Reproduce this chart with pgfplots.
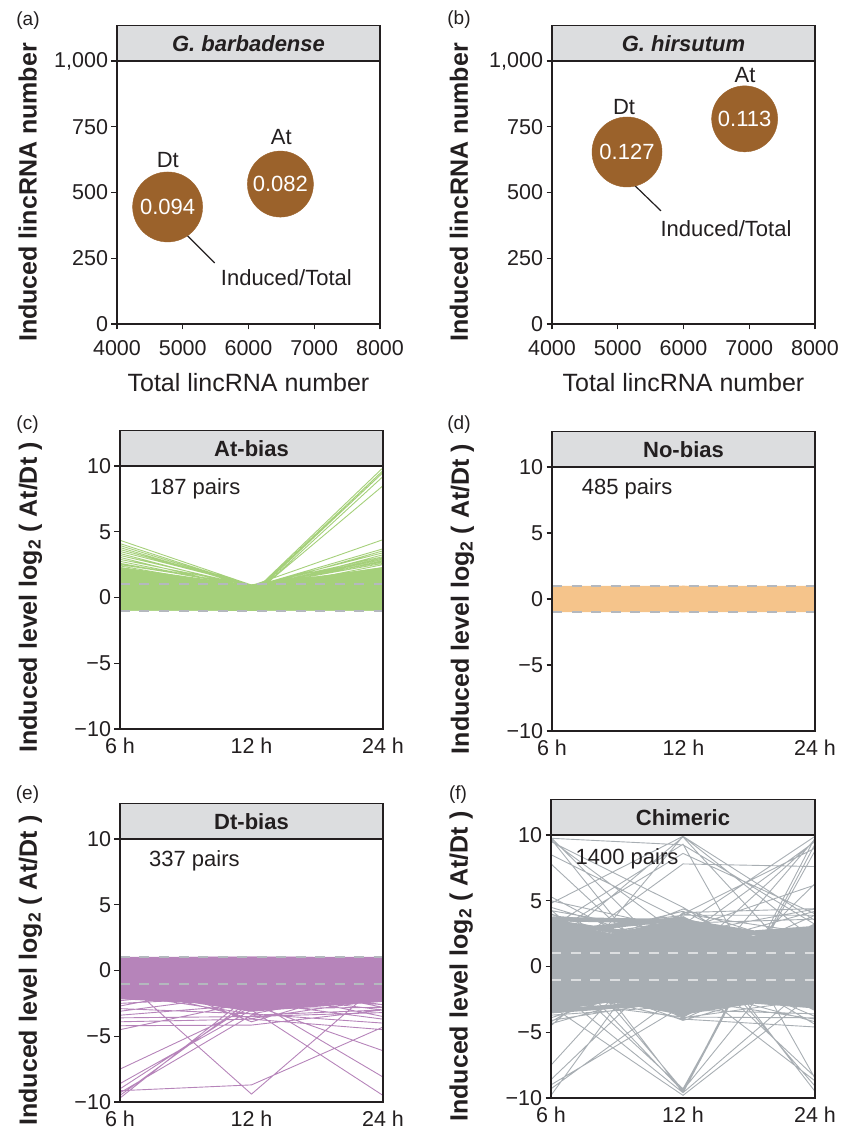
\documentclass[border=0pt]{standalone}
\usepackage{fontspec}
\setmainfont{Liberation Sans}
\usepackage{pgfplots}
\pgfplotsset{compat=1.18}
\definecolor{ink}{HTML}{231F20}
\definecolor{hdr}{HTML}{DCDDDF}
\definecolor{bubble}{HTML}{9B622B}
\definecolor{cgreen}{HTML}{A5D07A}
\definecolor{corange}{HTML}{F5C48B}
\definecolor{cpurple}{HTML}{B684BA}
\definecolor{cgray}{HTML}{A8AEB3}
\definecolor{dashc}{HTML}{B4B8BE}
\definecolor{dashf}{HTML}{DCDEE0}
\newcommand{\tickfont}{\fontsize{21.5}{24}\selectfont}
\newcommand{\labfont}{\fontsize{25}{28}\selectfont\bfseries}
\newcommand{\hdrfont}{\fontsize{22}{25}\selectfont\bfseries}
\newcommand{\annfont}{\fontsize{22}{25}\selectfont}
\newcommand{\letfont}{\fontsize{19}{22}\selectfont}
\pgfplotsset{
  panel/.style={
    scale only axis, width=263pt, height=263pt,
    axis line style={line width=1.3pt, draw=ink},
    major tick length=5.5pt, tick align=outside,
    tick style={line width=1.2pt, draw=ink},
    xtick pos=left, ytick pos=left,
    tick label style={font=\tickfont, text=ink},
    every axis y label/.style={at={(rel axis cs:-0.34,0.5)}, rotate=90, anchor=center, font=\labfont, text=ink},
    every axis x label/.style={at={(rel axis cs:0.5,-0.224)}, anchor=center, font=\fontsize{25}{28}\selectfont, text=ink},
    clip=false, axis on top,
  },
  bubble/.style={
    panel, xmin=4000, xmax=8000, ymin=0, ymax=1000,
    xtick={4000,5000,6000,7000,8000}, xticklabels={4000,5000,6000,7000,8000},
    xticklabel style={yshift=-7pt},
    ytick={0,250,500,750,1000}, yticklabels={0,250,500,750,{1,000}},
    xlabel={Total lincRNA number}, ylabel={Induced lincRNA number},
  },
  disc/.style={only marks, mark=*, mark size=#1, color=bubble,
    mark options={fill=bubble, draw=bubble},
    nodes near coords, point meta=explicit symbolic, nodes near coords align=center,
    every node near coord/.append style={anchor=center, font=\annfont, text=white, inner sep=0pt}},
  ratio/.style={
    panel, xmin=0, xmax=2, ymin=-10, ymax=10,
    xtick={0,1,2}, xticklabels={6 h,12 h,24 h}, xtick style={draw=none},
    ytick={-10,-5,0,5,10}, yticklabels={−10,−5,0,5,10},
    ylabel={Induced level log\textsubscript{2} ( At/Dt )},
    unbounded coords=jump,
  },
  core/.style={line width=3pt},
  thin/.style={line width=0.9pt},
  dash/.style={#1, line width=1.8pt, dash pattern=on 10pt off 9.5pt},
}
\newcommand{\header}[1]{%
  \draw[line width=1.3pt, draw=ink, fill=hdr] (rel axis cs:0,1) rectangle ([yshift=35.5pt]rel axis cs:1,1);
  \node[font=\hdrfont, text=ink] at ([yshift=17.5pt]rel axis cs:0.5,1) {#1};}
\begin{document}
\begin{tikzpicture}
\useasboundingbox (0pt,0pt) rectangle (849pt,1135pt);
% ---------------- (a)
\begin{axis}[bubble, at={(117pt,811pt)}, anchor=south west]
\header{\textit{G. barbadense}}
\addplot[disc=35pt] coordinates {(4770,445) [0.094]};
\addplot[disc=33pt] coordinates {(6485,532) [0.082]};
\node[font=\annfont, text=ink] at (axis cs:4773,623) {Dt};
\node[font=\annfont, text=ink] at (axis cs:6500,711) {At};
\node[font=\annfont, text=ink] at (axis cs:6576,175) {Induced/Total};
\draw[line width=1.2pt, ink] (axis cs:4924,373) -- (axis cs:5485,232);
\end{axis}
% ---------------- (b)
\begin{axis}[bubble, at={(552pt,811pt)}, anchor=south west,
  every axis y label/.append style={at={(rel axis cs:-0.354,0.5)}}]
\header{\textit{G. hirsutum}}
\addplot[disc=35pt] coordinates {(5141,654) [0.127]};
\addplot[disc=33pt] coordinates {(6930,780) [0.113]};
\node[font=\annfont, text=ink] at (axis cs:5095,825) {Dt};
\node[font=\annfont, text=ink] at (axis cs:6935,947) {At};
\node[font=\annfont, text=ink] at (axis cs:6646,361) {Induced/Total};
\draw[line width=1.2pt, ink] (axis cs:5095,566) -- (axis cs:5658,430);
\end{axis}
% ---------------- (c) At-bias
\begin{axis}[ratio, at={(120pt,406pt)}, anchor=south west]
\header{At-bias}
\addplot[fill=cgreen, draw=none] coordinates {(0,2.3)(0.5,1.5)(1,1.0)(1.5,1.6)(2,2.3)(2,-1)(1,-1)(0,-1)} -- cycle;
\addplot[cgreen, core] coordinates {
(0,-0.9)(1,0.2)(2,1.3)(2,nan) (0,-0.7)(1,-0.8)(2,0.4)(2,nan) (0,-0.5)(1,0.6)(2,-0.9)(2,nan)
(0,-0.3)(1,-0.4)(2,2.0)(2,nan) (0,-0.1)(1,0.8)(2,0.0)(2,nan) (0,0.1)(1,-0.1)(2,-0.6)(2,nan)
(0,0.3)(1,0.4)(2,1.7)(2,nan) (0,0.5)(1,-0.6)(2,0.9)(2,nan) (0,0.7)(1,0.0)(2,-0.3)(2,nan)
(0,0.9)(1,0.7)(2,2.2)(2,nan) (0,1.1)(1,-0.3)(2,0.6)(2,nan) (0,1.3)(1,0.3)(2,-0.8)(2,nan)
(0,1.5)(1,-0.8)(2,1.1)(2,nan) (0,1.7)(1,0.5)(2,0.2)(2,nan) (0,1.9)(1,-0.5)(2,1.5)(2,nan)
(0,2.1)(1,0.1)(2,-0.1)(2,nan) (0,-0.8)(1,-0.2)(2,-0.5)(2,nan) (0,0.0)(1,0.85)(2,1.9)(2,nan)
(0,0.8)(1,-0.9)(2,0.8)(2,nan) (0,1.6)(1,0.65)(2,-0.4)(2,nan) (0,2.2)(1,0.8)(2,1.2)(2,nan)
(0,-0.6)(1,0.3)(2,0.1)(2,nan) (0,0.4)(1,-0.7)(2,1.4)(2,nan) (0,1.2)(1,0.2)(2,-0.7)(2,nan)
(0,-0.2)(1,0.5)(2,0.5)(2,nan) (0,0.6)(1,-0.2)(2,1.8)(2,nan) (0,1.8)(1,-0.6)(2,-0.2)(2,nan)
(0,1.0)(1,0.6)(2,0.3)(2,nan) (0,-0.4)(1,-0.5)(2,1.0)(2,nan) (0,0.2)(1,0.1)(2,2.1)(2,nan)
};
\addplot[cgreen, thin] coordinates {
(0,4.35)(1,0.95)(2,1.2)(2,nan) (0,4.1)(1,0.9)(2,0.5)(2,nan) (0,3.95)(1,0.85)(2,-0.2)(2,nan)
(0,3.8)(1,0.8)(2,1.6)(2,nan) (0,3.65)(1,0.9)(2,0.9)(2,nan) (0,3.5)(1,0.95)(2,2.0)(2,nan)
(0,3.35)(1,0.7)(2,0.1)(2,nan) (0,3.2)(1,0.85)(2,1.4)(2,nan) (0,3.05)(1,0.6)(2,-0.5)(2,nan)
(0,2.9)(1,0.9)(2,0.7)(2,nan) (0,2.75)(1,0.75)(2,1.9)(2,nan) (0,2.6)(1,0.8)(2,0.3)(2,nan)
(0,2.5)(1,0.95)(2,2.2)(2,nan) (0,2.4)(1,0.65)(2,-0.3)(2,nan)
(0,0.8)(1,0.9)(2,4.4)(2,nan) (0,1.5)(1,0.8)(2,3.7)(2,nan) (0,0.2)(1,0.7)(2,3.55)(2,nan)
(0,1.2)(1,0.85)(2,3.4)(2,nan) (0,-0.3)(1,0.6)(2,3.25)(2,nan) (0,0.5)(1,0.9)(2,3.1)(2,nan)
(0,1.9)(1,0.8)(2,3.0)(2,nan) (0,0.0)(1,0.75)(2,2.9)(2,nan) (0,1.1)(1,0.65)(2,2.8)(2,nan)
(0,2.0)(1,0.9)(2,2.7)(2,nan) (0,-0.5)(1,0.8)(2,2.6)(2,nan) (0,0.7)(1,0.5)(2,2.5)(2,nan)
(0,1.2)(1,0.3)(2,9.87)(2,nan) (0,0.4)(1,0.2)(2,9.65)(2,nan) (0,1.8)(1,0.1)(2,9.5)(2,nan)
(0,0.9)(1,0.0)(2,9.2)(2,nan) (0,0.1)(1,0.1)(2,8.5)(2,nan)
(0,-0.97)(1,-0.95)(2,-0.97)(2,nan) (0,-0.95)(1,-0.98)(2,-0.9)(2,nan)
};
\addplot[dash=dashc] coordinates {(0,1)(2,1)};
\addplot[dash=dashc] coordinates {(0,-1)(2,-1)};
\node[font=\annfont, text=ink, anchor=west] at (axis cs:0.2,8.3) {187 pairs};
\end{axis}
% ---------------- (d) No-bias
\begin{axis}[ratio, at={(552pt,404pt)}, anchor=south west, height=264pt]
\header{No-bias}
\addplot[fill=corange, draw=none] coordinates {(0,1)(1,1)(2,1)(2,-1)(1,-1)(0,-1)} -- cycle;
\addplot[corange, line width=3.5pt] coordinates {
(0,-0.88)(1,0.2)(2,-0.5)(2,nan) (0,-0.8)(1,-0.6)(2,0.7)(2,nan) (0,-0.7)(1,0.8)(2,0.1)(2,nan)
(0,-0.6)(1,-0.2)(2,-0.88)(2,nan) (0,-0.5)(1,0.5)(2,0.4)(2,nan) (0,-0.4)(1,-0.88)(2,-0.2)(2,nan)
(0,-0.3)(1,0.1)(2,0.88)(2,nan) (0,-0.2)(1,0.6)(2,-0.6)(2,nan) (0,-0.1)(1,-0.4)(2,0.3)(2,nan)
(0,0.0)(1,0.88)(2,-0.3)(2,nan) (0,0.1)(1,-0.7)(2,0.6)(2,nan) (0,0.2)(1,0.3)(2,-0.8)(2,nan)
(0,0.3)(1,-0.1)(2,0.0)(2,nan) (0,0.4)(1,0.7)(2,-0.7)(2,nan) (0,0.5)(1,-0.5)(2,0.5)(2,nan)
(0,0.6)(1,0.0)(2,-0.1)(2,nan) (0,0.7)(1,-0.8)(2,0.8)(2,nan) (0,0.8)(1,0.4)(2,-0.4)(2,nan)
(0,0.88)(1,-0.3)(2,0.2)(2,nan) (0,0.75)(1,0.7)(2,-0.88)(2,nan) (0,-0.75)(1,0.0)(2,0.6)(2,nan)
(0,0.25)(1,-0.75)(2,-0.45)(2,nan) (0,-0.35)(1,0.45)(2,0.75)(2,nan) (0,0.55)(1,0.85)(2,0.35)(2,nan)
};
\addplot[dash=dashc] coordinates {(0,1)(2,1)};
\addplot[dash=dashc] coordinates {(0,-1)(2,-1)};
\node[font=\annfont, text=ink, anchor=west] at (axis cs:0.2,8.35) {485 pairs};
\end{axis}
% ---------------- (e) Dt-bias
\begin{axis}[ratio, at={(120pt,33pt)}, anchor=south west]
\header{Dt-bias}
\addplot[fill=cpurple, draw=none] coordinates {(0,1)(1,1.05)(2,1)(2,-2.35)(1.5,-2.45)(1,-3.1)(0.5,-2.3)(0,-2.1)} -- cycle;
\addplot[cpurple, line width=3.5pt] coordinates {
(0,-2.05)(1,-2.57)(2,-0.99)(2,nan) (0,-1.94)(1,-1.85)(2,0.05)(2,nan) (0,-1.83)(1,-1.13)(2,-2.14)(2,nan)
(0,-1.72)(1,-0.41)(2,-1.10)(2,nan) (0,-1.61)(1,0.31)(2,-0.07)(2,nan) (0,-1.50)(1,-3.00)(2,-2.25)(2,nan)
(0,-1.39)(1,-2.28)(2,-1.22)(2,nan) (0,-1.28)(1,-1.56)(2,-0.18)(2,nan) (0,-1.17)(1,-0.84)(2,0.86)(2,nan)
(0,-1.06)(1,-0.12)(2,-1.33)(2,nan) (0,-0.95)(1,0.60)(2,-0.30)(2,nan) (0,-0.84)(1,-2.71)(2,0.74)(2,nan)
(0,-0.73)(1,-1.99)(2,-1.45)(2,nan) (0,-0.62)(1,-1.27)(2,-0.41)(2,nan) (0,-0.51)(1,-0.55)(2,0.63)(2,nan)
(0,-0.40)(1,0.17)(2,-1.56)(2,nan) (0,-0.29)(1,0.89)(2,-0.53)(2,nan) (0,-0.18)(1,-2.42)(2,0.51)(2,nan)
(0,-0.07)(1,-1.70)(2,-1.68)(2,nan) (0,0.04)(1,-0.98)(2,-0.64)(2,nan) (0,0.15)(1,-0.26)(2,0.40)(2,nan)
(0,0.26)(1,0.46)(2,-1.79)(2,nan) (0,0.37)(1,-2.86)(2,-0.76)(2,nan) (0,0.48)(1,-2.14)(2,0.28)(2,nan)
(0,0.59)(1,-1.42)(2,-1.91)(2,nan) (0,0.70)(1,-0.70)(2,-0.87)(2,nan) (0,0.81)(1,0.02)(2,0.17)(2,nan)
(0,0.92)(1,0.74)(2,-2.02)(2,nan) (0,0.9)(1,0.92)(2,0.9)(2,nan) (0,0.85)(1,0.5)(2,0.88)(2,nan)
};
\addplot[cpurple, thin] coordinates {
(0,-2.3)(1,-1.2)(2,-2.6)(2,nan) (0,-2.5)(1,-2.0)(2,-0.5)(2,nan) (0,-2.7)(1,-0.8)(2,-2.8)(2,nan)
(0,-2.9)(1,-3.3)(2,-1.5)(2,nan) (0,-3.1)(1,-1.8)(2,-3.0)(2,nan) (0,-3.4)(1,-2.6)(2,-2.0)(2,nan)
(0,-3.6)(1,-3.5)(2,-3.2)(2,nan) (0,-3.9)(1,-3.7)(2,-4.5)(2,nan) (0,-4.2)(1,-4.15)(2,-3.0)(2,nan)
(0,-4.5)(1,-2.4)(2,-3.7)(2,nan) (0,-1.2)(1,-3.65)(2,-2.2)(2,nan) (0,0.0)(1,-3.9)(2,-1.0)(2,nan)
(0,-1.8)(1,-3.3)(2,-4.0)(2,nan) (0,-0.8)(1,-2.9)(2,-2.8)(2,nan) (0,-2.0)(1,-1.5)(2,-3.5)(2,nan)
(0,-9.14)(1,-8.7)(2,-4.3)(2,nan) (0,-0.5)(1,-9.4)(2,-0.8)(2,nan) (0,-7.5)(1,-2.8)(2,-1.0)(2,nan)
(0,-8.6)(1,-3.0)(2,-2.0)(2,nan) (0,-9.0)(1,-2.5)(2,-0.5)(2,nan) (0,-9.3)(1,-3.4)(2,-3.0)(2,nan)
(0,-9.5)(1,-2.2)(2,-1.5)(2,nan) (0,-9.7)(1,-1.8)(2,-2.6)(2,nan) (0,-1.0)(1,-3.0)(2,-9.5)(2,nan)
(0,-0.5)(1,-2.2)(2,-8.1)(2,nan) (0,-1.5)(1,-2.6)(2,-6.1)(2,nan)
};
\addplot[dash=dashc] coordinates {(0,1)(2,1)};
\addplot[dash=dashc] coordinates {(0,-1)(2,-1)};
\node[font=\annfont, text=ink, anchor=west] at (axis cs:0.195,8.33) {337 pairs};
\end{axis}
% ---------------- (f) Chimeric
\begin{axis}[ratio, at={(551pt,37pt)}, anchor=south west, width=264pt]
\header{Chimeric}
\addplot[fill=cgray, draw=none] coordinates {(0,3.5)(0.46,2.5)(1,3.7)(1.53,2.35)(2,3.0)(2,-3.2)(1.53,-2.45)(1,-3.7)(0.46,-2.7)(0,-3.4)} -- cycle;
\addplot[cgray, line width=4.5pt] coordinates {
(0,-3.4)(1,-2.65)(2,-2.66)(2,nan) (0,-3.2)(1,-1.18)(2,-0.68)(2,nan) (0,-3.0)(1,0.29)(2,1.30)(2,nan)
(0,-2.8)(1,1.76)(2,-3.2)(2,nan) (0,-2.6)(1,3.23)(2,-1.22)(2,nan) (0,-2.4)(1,-2.86)(2,0.76)(2,nan)
(0,-2.2)(1,-1.39)(2,2.74)(2,nan) (0,-2.0)(1,0.08)(2,-1.76)(2,nan) (0,-1.8)(1,1.55)(2,0.22)(2,nan)
(0,-1.6)(1,3.02)(2,2.2)(2,nan) (0,-1.4)(1,-3.07)(2,-2.3)(2,nan) (0,-1.2)(1,-1.6)(2,-0.32)(2,nan)
(0,-1.0)(1,-0.13)(2,1.66)(2,nan) (0,-0.8)(1,1.34)(2,-2.84)(2,nan) (0,-0.6)(1,2.81)(2,-0.86)(2,nan)
(0,-0.4)(1,-3.28)(2,1.12)(2,nan) (0,-0.2)(1,-1.81)(2,3.1)(2,nan) (0,0.0)(1,-0.34)(2,-1.4)(2,nan)
(0,0.2)(1,1.13)(2,0.58)(2,nan) (0,0.4)(1,2.6)(2,2.56)(2,nan) (0,0.6)(1,-3.49)(2,-1.94)(2,nan)
(0,0.8)(1,-2.02)(2,0.04)(2,nan) (0,1.0)(1,-0.55)(2,2.02)(2,nan) (0,1.2)(1,0.92)(2,-2.48)(2,nan)
(0,1.4)(1,2.39)(2,-0.5)(2,nan) (0,1.6)(1,-3.7)(2,1.48)(2,nan) (0,1.8)(1,-2.23)(2,-3.02)(2,nan)
(0,2.0)(1,-0.76)(2,-1.04)(2,nan) (0,2.2)(1,0.71)(2,0.94)(2,nan) (0,2.4)(1,2.18)(2,2.92)(2,nan)
(0,2.6)(1,3.65)(2,-1.58)(2,nan) (0,2.8)(1,-2.44)(2,0.4)(2,nan) (0,3.0)(1,-0.97)(2,2.38)(2,nan)
(0,3.2)(1,0.5)(2,-2.12)(2,nan) (0,3.4)(1,1.97)(2,-0.14)(2,nan) (0,3.6)(1,3.44)(2,1.84)(2,nan)
};
\addplot[cgray, thin] coordinates {
(0,4.5)(1,1.5)(2,0.5)(2,nan) (0,4.25)(1,2.5)(2,-1.0)(2,nan) (0,4.0)(1,0.8)(2,2.8)(2,nan)
(0,3.85)(1,3.0)(2,1.5)(2,nan) (0,0.5)(1,4.37)(2,1.2)(2,nan) (0,1.8)(1,4.2)(2,-0.5)(2,nan)
(0,-0.5)(1,4.0)(2,2.5)(2,nan) (0,2.6)(1,3.9)(2,3.9)(2,nan) (0,-1.0)(1,2.5)(2,4.37)(2,nan)
(0,1.0)(1,1.5)(2,4.2)(2,nan) (0,2.2)(1,-0.5)(2,3.9)(2,nan) (0,0.0)(1,3.3)(2,3.6)(2,nan)
(0,-4.35)(1,-1.5)(2,-0.5)(2,nan) (0,-4.1)(1,-2.5)(2,1.0)(2,nan) (0,-3.9)(1,-0.8)(2,-2.8)(2,nan)
(0,-3.7)(1,-3.0)(2,-1.5)(2,nan) (0,-0.5)(1,-4.1)(2,-1.2)(2,nan) (0,-1.8)(1,-4.0)(2,0.5)(2,nan)
(0,0.5)(1,-3.9)(2,-2.5)(2,nan) (0,-2.6)(1,-3.85)(2,-3.9)(2,nan) (0,1.0)(1,-1.5)(2,-4.2)(2,nan)
(0,-1.0)(1,-2.5)(2,-4.0)(2,nan) (0,-2.2)(1,0.5)(2,-3.8)(2,nan) (0,0.0)(1,-3.3)(2,-3.6)(2,nan)
(0,9.75)(1,9.25)(2,3.2)(2,nan) (0,9.7)(1,-2.8)(2,0.5)(2,nan) (0,9.8)(1,-0.1)(2,-2.0)(2,nan)
(0,9.6)(1,2.2)(2,9.5)(2,nan) (0,9.5)(1,4.5)(2,-1.5)(2,nan) (0,8.5)(1,3.5)(2,1.0)(2,nan)
(0,7.8)(1,-1.5)(2,2.5)(2,nan) (0,5.3)(1,0.0)(2,-3.0)(2,nan) (0,5.0)(1,2.8)(2,6.2)(2,nan)
(0,4.8)(1,9.9)(2,2.0)(2,nan) (0,1.5)(1,9.85)(2,-1.0)(2,nan) (0,-2.0)(1,9.9)(2,3.5)(2,nan)
(0,2.5)(1,8.6)(2,4.0)(2,nan) (0,0.5)(1,7.8)(2,7.6)(2,nan) (0,3.0)(1,9.3)(2,-8.5)(2,nan)
(0,-7.5)(1,3.5)(2,0.0)(2,nan) (0,-8.6)(1,1.0)(2,-2.0)(2,nan) (0,-9.3)(1,-2.0)(2,2.0)(2,nan)
(0,-9.8)(1,4.0)(2,9.0)(2,nan) (0,-9.0)(1,-3.0)(2,-1.0)(2,nan) (0,1.0)(1,-9.5)(2,9.8)(2,nan)
(0,-1.5)(1,-9.6)(2,9.3)(2,nan) (0,2.5)(1,-9.4)(2,3.0)(2,nan) (0,-3.0)(1,-9.8)(2,-2.0)(2,nan)
(0,0.0)(1,-9.3)(2,8.8)(2,nan) (0,3.5)(1,-9.6)(2,-1.0)(2,nan) (0,-1.0)(1,3.2)(2,9.9)(2,nan)
(0,1.5)(1,0.5)(2,9.6)(2,nan) (0,-2.5)(1,-2.0)(2,9.7)(2,nan) (0,2.0)(1,3.5)(2,-9.5)(2,nan)
(0,-0.5)(1,2.5)(2,-9.1)(2,nan) (0,0.8)(1,1.0)(2,-8.4)(2,nan) (0,-2.0)(1,-1.0)(2,-8.7)(2,nan)
(0,3.2)(1,-3.5)(2,6.3)(2,nan) (0,-4.5)(1,4.1)(2,4.4)(2,nan) (0,4.3)(1,-4.0)(2,-4.6)(2,nan)
(0,-4.2)(1,1.5)(2,-4.4)(2,nan)
};
\addplot[dash=dashf] coordinates {(0,1)(2,1)};
\addplot[dash=dashf] coordinates {(0,-1)(2,-1)};
\node[font=\annfont, text=ink, anchor=west] at (axis cs:0.16,8.2) {1400 pairs};
\end{axis}
% panel letters
\node[font=\letfont, text=ink] at (28pt,1114pt) {(a)};
\node[font=\letfont, text=ink] at (459pt,1115pt) {(b)};
\node[font=\letfont, text=ink] at (27.5pt,710pt) {(c)};
\node[font=\letfont, text=ink] at (459pt,710pt) {(d)};
\node[font=\letfont, text=ink] at (27.5pt,340pt) {(e)};
\node[font=\letfont, text=ink] at (458pt,340pt) {(f)};
\end{tikzpicture}
\end{document}
